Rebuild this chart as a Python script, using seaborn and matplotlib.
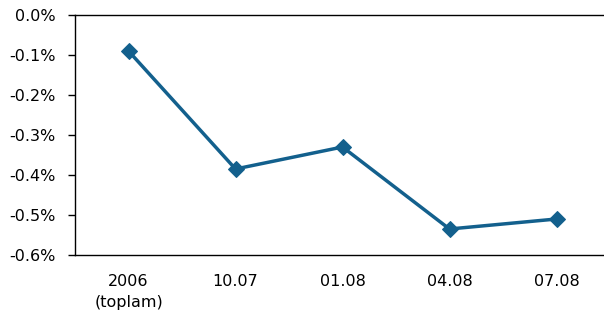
import numpy as np
import pandas as pd
import matplotlib
matplotlib.use("Agg")
import matplotlib.pyplot as plt
import seaborn as sns
from matplotlib.ticker import FuncFormatter

periods = ["2006\n(toplam)", "10.07", "01.08", "04.08", "07.08"]
values = [-0.09, -0.385, -0.33, -0.535, -0.51]

sns.set_theme(style="white")
plt.rcParams["font.family"] = ["DejaVu Sans"]

df = pd.DataFrame({"pos": np.arange(len(periods)), "value": values})

fig = plt.figure(figsize=(6.04, 3.24), dpi=100)
ax = fig.add_axes([75 / 604, 69 / 324, 535 / 604, 240 / 324])

line_color = "#13608d"
sns.lineplot(data=df, x="pos", y="value", ax=ax, color=line_color,
             linewidth=2.5, marker="D", markersize=8.5,
             markeredgecolor=line_color, markerfacecolor=line_color)

ax.set_xlim(-0.5, len(periods) - 0.5)
ax.set_ylim(-0.6, 0.0)
ax.set_yticks(np.arange(-0.6, 0.001, 0.1))
ax.yaxis.set_major_formatter(FuncFormatter(lambda v, _: f"{v:.1f}%".replace("-0.0", "0.0")))
ax.set_xticks(df["pos"])
ax.set_xticklabels(periods, linespacing=1.5)
ax.set_xlabel("")
ax.set_ylabel("")

for side in ["left", "bottom", "top"]:
    ax.spines[side].set_visible(True)
    ax.spines[side].set_color("black")
    ax.spines[side].set_linewidth(1.0)
ax.spines["right"].set_visible(False)

ax.tick_params(axis="y", left=True, length=5, width=1, color="black",
               pad=9, labelsize=11.5, labelcolor="black")
ax.tick_params(axis="x", bottom=False, pad=8, labelsize=11.5, labelcolor="black")

fig.savefig("out.png", dpi=100)
